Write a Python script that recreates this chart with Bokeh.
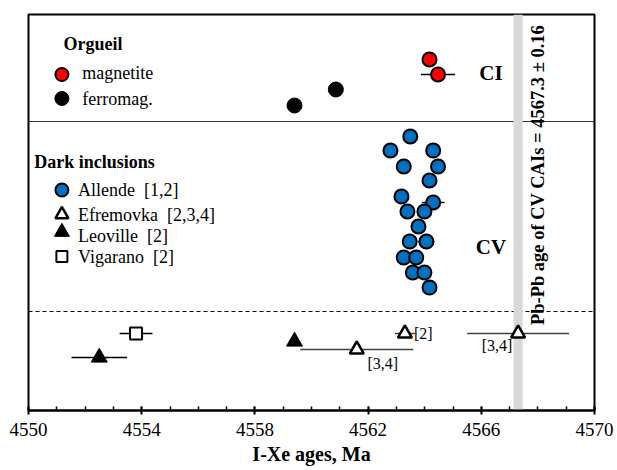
import math
from bokeh.plotting import figure
from bokeh.models import Range1d, FixedTicker, Title
from bokeh.core.properties import value
from bokeh.embed import file_html
from bokeh.resources import INLINE

# ---------------- data (ages in Ma; rows = vertical placement, no y scale) ----
ci_magnetite_age = [4564.17, 4564.47]
ci_magnetite_err = [0.0, 0.6]
ci_magnetite_row = [351, 336]

ci_ferromag_age = [4559.40, 4560.86]
ci_ferromag_row = [305, 321]

allende_age = [4563.49, 4562.79, 4564.30, 4563.26, 4564.47, 4564.17, 4563.18,
               4564.30, 4563.39, 4563.99, 4563.78, 4563.47, 4564.06, 4563.26,
               4563.70, 4563.58, 4563.99, 4564.17]
allende_err = [0, 0, 0, 0, 0, 0, 0, 0.4, 0, 0, 0, 0, 0.28, 0, 0, 0, 0, 0]
allende_row = [274, 260, 260, 244, 244, 230, 214, 208, 199, 199, 184, 169, 169,
               153, 153, 138, 138, 123]

efremovka_age = [4561.6, 4563.3, 4567.3]
efremovka_err = [2.0, 0.35, 1.8]
efremovka_row = [61, 77, 77]
efremovka_ref = ["[3,4]", "[2]", "[3,4]"]

leoville_age = [4552.5, 4559.4]
leoville_err = [0.98, 0.0]
leoville_row = [53, 69]

vigarano_age = [4553.8]
vigarano_err = [0.58]
vigarano_row = [77]

cai_age = 4567.3
cai_err = 0.16

x_major_ticks = [4550, 4554, 4558, 4562, 4566, 4570]
x_minor_ticks = list(range(4550, 4571))
x_title = "I-Xe ages, Ma"

FONT = "Liberation Serif"
BLUE = "#0070c0"
SP2 = "\u00a0 "

p = figure(width=617, height=470, output_backend="svg", toolbar_location=None,
           x_range=Range1d(x_major_ticks[0], x_major_ticks[-1]), y_range=Range1d(0, 396),
           y_axis_location=None, min_border_left=28, min_border_right=23,
           min_border_top=14, min_border_bottom=60)
p.xgrid.visible = False
p.ygrid.visible = False
p.outline_line_color = "black"
p.outline_line_width = 2
p.background_fill_color = "white"
p.border_fill_color = "white"

ax = p.xaxis[0]
ax.ticker = FixedTicker(ticks=x_major_ticks, minor_ticks=x_minor_ticks)
ax.axis_line_width = 2
ax.major_tick_in = 4
ax.major_tick_out = 4
ax.major_tick_line_width = 2
ax.minor_tick_in = 4
ax.minor_tick_out = 0
ax.minor_tick_line_width = 1.5
ax.major_label_text_font = FONT
ax.major_label_text_font_size = "19px"
ax.major_label_text_color = "black"
ax.major_label_standoff = 8

# axis title as a title panel below the axis
p.add_layout(Title(text=x_title, align="center", offset=-28, standoff=4,
                   text_font=FONT, text_font_style="bold", text_font_size="20px",
                   text_color="black"), "below")

# separator lines
p.segment(x0=[x_major_ticks[0]], x1=[x_major_ticks[-1]], y0=[289], y1=[289],
          line_color="#333333", line_width=1.2)
p.segment(x0=[x_major_ticks[0]], x1=[x_major_ticks[-1]], y0=[99], y1=[99],
          line_color="black", line_width=1, line_dash="4 3")

# Pb-Pb CAI age band
p.quad(left=[cai_age - cai_err], right=[cai_age + cai_err], bottom=[0], top=[396],
       fill_color="#d9d9d9", line_color=None)
p.text(x=[4568.02], y=[235.5],
       text=["Pb-Pb age of CV CAIs = %.1f \u00b1 %.2f" % (cai_age, cai_err)],
       angle=math.pi / 2, text_align="center", text_baseline="middle",
       text_font=value(FONT), text_font_style="bold", text_font_size="18.5px",
       text_color="black")

def ebar(ages, errs, rows, color="black"):
    x0 = [a - e for a, e in zip(ages, errs)]
    x1 = [a + e for a, e in zip(ages, errs)]
    p.segment(x0=x0, x1=x1, y0=rows, y1=rows, line_color=color, line_width=1.3)

ebar(ci_magnetite_age, ci_magnetite_err, ci_magnetite_row)
ebar(allende_age, allende_err, allende_row)
ebar(efremovka_age, efremovka_err, efremovka_row, "#404040")
ebar(leoville_age, leoville_err, leoville_row)
ebar(vigarano_age, vigarano_err, vigarano_row)

# markers
p.scatter(ci_ferromag_age, ci_ferromag_row, marker="circle", size=15,
          fill_color="black", line_color="black")
p.scatter(ci_magnetite_age, ci_magnetite_row, marker="circle", size=14,
          fill_color="#ff0000", line_color="black", line_width=2)
p.scatter(allende_age, allende_row, marker="circle", size=14,
          fill_color=BLUE, line_color="black", line_width=2)
p.scatter(efremovka_age, efremovka_row, marker="triangle", size=14,
          fill_color="white", line_color="black", line_width=2.5)
p.scatter(leoville_age, leoville_row, marker="triangle", size=16,
          fill_color="black", line_color="black")
p.scatter(vigarano_age, vigarano_row, marker="square", size=12,
          fill_color="white", line_color="black", line_width=2)

# reference tags for Efremovka
ref_style = dict(text_baseline="middle", text_font=value(FONT), text_font_size="16px",
                 text_color="black")
p.text(x=[efremovka_age[0]], y=[efremovka_row[0]], text=[efremovka_ref[0]],
       x_offset=26, y_offset=14, text_align="center", **ref_style)
p.text(x=[efremovka_age[1]], y=[efremovka_row[1]], text=[efremovka_ref[1]],
       x_offset=9, y_offset=0, text_align="left", **ref_style)
p.text(x=[efremovka_age[2]], y=[efremovka_row[2]], text=[efremovka_ref[2]],
       x_offset=-21, y_offset=12, text_align="center", **ref_style)

# group labels
p.text(x=[4566.34, 4566.34], y=[338, 164], text=["CI", "CV"],
       text_align="center", text_baseline="middle", text_font=value(FONT),
       text_font_style="bold", text_font_size="21px", text_color="black")

# hand-made legends
lx_m, lx_t = 4551.18, 4551.9
p.text(x=[4551.24], y=[367], text=["Orgueil"], text_baseline="middle",
       text_font=value(FONT), text_font_style="bold", text_font_size="18px", text_color="black")
p.scatter([lx_m], [336], marker="circle", size=13, fill_color="#ff0000",
          line_color="black", line_width=2)
p.scatter([lx_m], [312], marker="circle", size=14, fill_color="black", line_color="black")
p.text(x=[lx_t, lx_t], y=[338, 312], text=["magnetite", "ferromag."], text_baseline="middle",
       text_font=value(FONT), text_font_size="18px", text_color="black")

p.text(x=[4550.2], y=[249], text=["Dark inclusions"], text_baseline="middle",
       text_font=value(FONT), text_font_style="bold", text_font_size="18px", text_color="black")
lx_t2 = 4551.75
p.scatter([lx_m], [220.5], marker="circle", size=13, fill_color=BLUE,
          line_color="black", line_width=2)
p.scatter([lx_m], [196], marker="triangle", size=13, fill_color="white",
          line_color="black", line_width=2.5)
p.scatter([lx_m], [178.5], marker="triangle", size=15, fill_color="black", line_color="black")
p.scatter([lx_m], [154], marker="square", size=11, fill_color="white",
          line_color="black", line_width=2)
p.text(x=[lx_t2] * 4, y=[220.5, 195.5, 174.5, 154],
       text=["Allende" + SP2 + "[1,2]", "Efremovka" + SP2 + "[2,3,4]",
             "Leoville" + SP2 + "[2]", "Vigarano" + SP2 + "[2]"],
       text_baseline="middle", text_font=value(FONT), text_font_size="18px", text_color="black")

open("out.html", "w").write(file_html(p, INLINE))
